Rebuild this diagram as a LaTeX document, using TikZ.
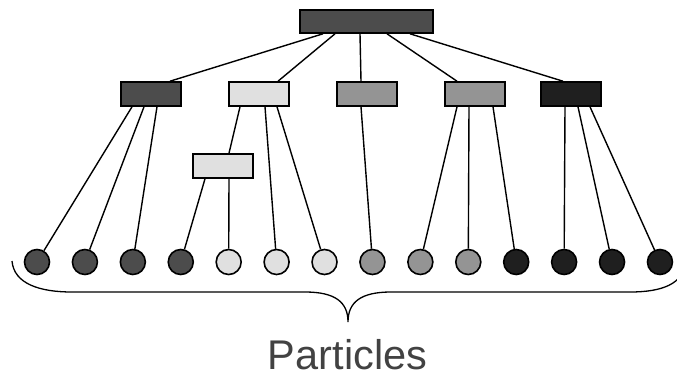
\documentclass[tikz,border=0pt]{standalone}
\usepackage{fontspec}
\setmainfont{Liberation Sans}
\begin{document}
\begin{tikzpicture}[x=1pt,y=-1pt,
  line width=1.6pt,
  darkg/.style={fill=black!70},
  lightg/.style={fill=black!12},
  midg/.style={fill=black!42},
  blackg/.style={fill=black!88},
  groupbox/.style={draw, rectangle, minimum width=60pt, minimum height=24pt, inner sep=0pt},
  particle/.style={draw, circle, minimum size=25pt, inner sep=0pt},
  link/.style={line width=1.4pt}]
\useasboundingbox (0,0) rectangle (677,378);

% root and group boxes
\node[groupbox, darkg, minimum width=133pt, minimum height=23pt] (root) at (366.5,21.5) {};
\node[groupbox, darkg]  (g1) at (151,94) {};
\node[groupbox, lightg] (g2) at (259,94) {};
\node[groupbox, midg]   (g3) at (367,94) {};
\node[groupbox, midg]   (g4) at (475,94) {};
\node[groupbox, blackg] (g5) at (571,94) {};
\node[groupbox, lightg] (sub) at (223,166) {};

% particles
\foreach \i/\s in {1/darkg,2/darkg,3/darkg,4/darkg,5/lightg,6/lightg,7/lightg,
                   8/midg,9/midg,10/midg,11/blackg,12/blackg,13/blackg,14/blackg}
  \node[particle, \s] (p\i) at ({37+(\i-1)*47.92},262) {};

% root to groups
\draw[link] ([xshift=-43.5pt]root.south) -- ([xshift=19pt]g1.north);
\draw[link] ([xshift=-31.5pt]root.south) -- ([xshift=19pt]g2.north);
\draw[link] ([xshift=-6.5pt]root.south)  -- ([xshift=-6pt]g3.north);
\draw[link] ([xshift=20.5pt]root.south)  -- ([xshift=-18pt]g4.north);
\draw[link] ([xshift=43.5pt]root.south)  -- ([xshift=-8pt]g5.north);

% groups to particles
\draw[link] ([xshift=-19pt]g1.south) -- (p1);
\draw[link] ([xshift=-7pt]g1.south)  -- (p2);
\draw[link] ([xshift=6pt]g1.south)   -- (p3);
\draw[link] ([xshift=-19pt]g2.south) -- ([xshift=6pt]sub.north);
\draw[link] ([xshift=6pt]g2.south)   -- (p6);
\draw[link] ([xshift=18pt]g2.south)  -- (p7);
\draw[link] ([xshift=-18pt]sub.south) -- (p4);
\draw[link] ([xshift=6pt]sub.south)  -- (p5);
\draw[link] ([xshift=-6pt]g3.south)  -- (p8);
\draw[link] ([xshift=-18pt]g4.south) -- (p9);
\draw[link] ([xshift=-6pt]g4.south)  -- (p10);
\draw[link] ([xshift=18pt]g4.south)  -- (p11);
\draw[link] ([xshift=-6pt]g5.south)  -- (p12);
\draw[link] ([xshift=7pt]g5.south)   -- (p13);
\draw[link] ([xshift=19pt]g5.south)  -- (p14);

% brace under the particles
\coordinate (tip) at (348,322);
\draw[line width=1.3pt] (12,261) .. controls (14,284) and (40,292) .. (72,292)
  -- (305,292) .. controls (335,292) and (348,302) .. (tip)
  .. controls (348,302) and (361,292) .. (391,292)
  -- (630,292) .. controls (662,292) and (684,284) .. (686,261);

\node[text=black!74, font=\fontsize{41.5}{45}\selectfont, anchor=base, inner sep=0pt, text depth=0pt] (lbl) at (347.5,369) {Particles};
\end{tikzpicture}
\end{document}
